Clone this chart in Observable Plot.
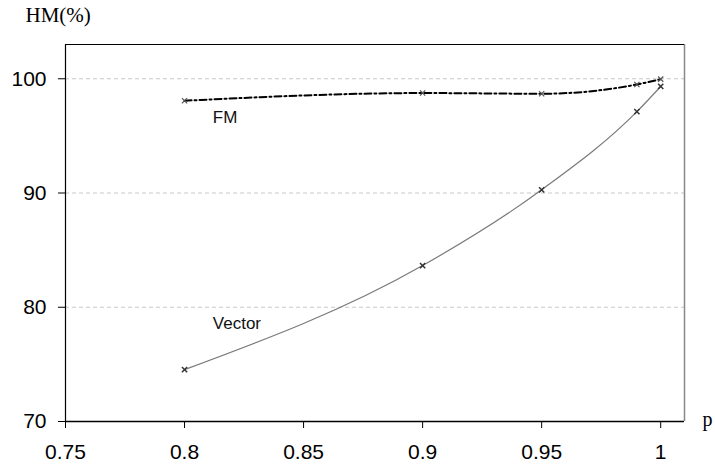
<!DOCTYPE html>
<html>
<head>
<meta charset="utf-8">
<script src="https://cdn.jsdelivr.net/npm/d3@7"></script>
<script src="https://cdn.jsdelivr.net/npm/@observablehq/plot@0.6"></script>
<style>
  html, body { margin: 0; padding: 0; background: #fff; }
  #chart svg { display: block; }
</style>
</head>
<body>
<div id="chart"></div>
<script>
const pValues = [0.8, 0.9, 0.95, 0.99, 1.0];
const fmValues = [98.08, 98.75, 98.69, 99.5, 99.97];
const vectorValues = [74.54, 83.65, 90.28, 97.12, 99.33];
const xTicks = [0.75, 0.8, 0.85, 0.9, 0.95, 1];
const xTickLabels = ["0.75", "0.8", "0.85", "0.9", "0.95", "1"];
const yTicks = [70, 80, 90, 100];
const gridValues = [80, 90, 100];
const seriesLabels = ["FM", "Vector"];
const labelX = [0.817, 0.822];
const labelY = [96.6, 78.6];

const fm = pValues.map((p, i) => ({p, v: fmValues[i]}));
const vec = pValues.map((p, i) => ({p, v: vectorValues[i]}));
const labels = seriesLabels.map((t, i) => ({t, x: labelX[i], y: labelY[i]}));

const chart = Plot.plot({
  width: 715,
  height: 469,
  marginLeft: 65,
  marginRight: 31,
  marginTop: 44,
  marginBottom: 48,
  style: {fontFamily: "'Liberation Sans', Arial, sans-serif", background: "#fff", color: "#000"},
  x: {domain: [0.75, 1.01]},
  y: {domain: [70, 103]},
  marks: [
    Plot.ruleY(gridValues, {stroke: "#c8c8c8", strokeDasharray: "4,3", strokeWidth: 1}),
    Plot.ruleX([1.01], {stroke: "#888", strokeWidth: 1.5}),
    Plot.ruleY([103], {stroke: "#000", strokeWidth: 1}),
    Plot.ruleX([0.75], {stroke: "#000", strokeWidth: 1.2}),
    Plot.ruleY([70], {stroke: "#000", strokeWidth: 1.5}),
    Plot.axisX(xTicks, {tickSize: 7, tickPadding: 16, fontSize: 21, tickFormat: (d, i) => xTickLabels[i], stroke: "#000", fill: "#000"}),
    Plot.axisY(yTicks, {tickSize: 7, tickPadding: 12, fontSize: 21, stroke: "#000", fill: "#000"}),
    Plot.line(vec, {x: "p", y: "v", curve: "monotone-x", stroke: "#7a7a7a", strokeWidth: 1.2}),
    Plot.line(fm, {x: "p", y: "v", curve: "monotone-x", stroke: "#000", strokeWidth: 2, strokeDasharray: "7,3,2,3"}),
    Plot.dot(vec, {x: "p", y: "v", symbol: "times", r: 2.5, stroke: "#333", strokeWidth: 1.5}),
    Plot.dot(fm, {x: "p", y: "v", symbol: "times", r: 2.5, stroke: "#555", strokeWidth: 1.2}),
    Plot.text(labels, {x: "x", y: "y", text: "t", fontSize: 17, fill: "#111"}),
    Plot.text(["HM(%)"], {frameAnchor: "top-left", dx: -40, dy: -29, textAnchor: "start", lineAnchor: "middle", fontSize: 21, fontFamily: "'Liberation Serif', 'Times New Roman', serif", fill: "#000"}),
    Plot.text(["p"], {frameAnchor: "bottom-right", dx: 18, dy: -2, textAnchor: "start", lineAnchor: "middle", fontSize: 20, fontFamily: "'Liberation Serif', 'Times New Roman', serif", fill: "#000"})
  ]
});
document.getElementById("chart").appendChild(chart);
</script>
</body>
</html>
